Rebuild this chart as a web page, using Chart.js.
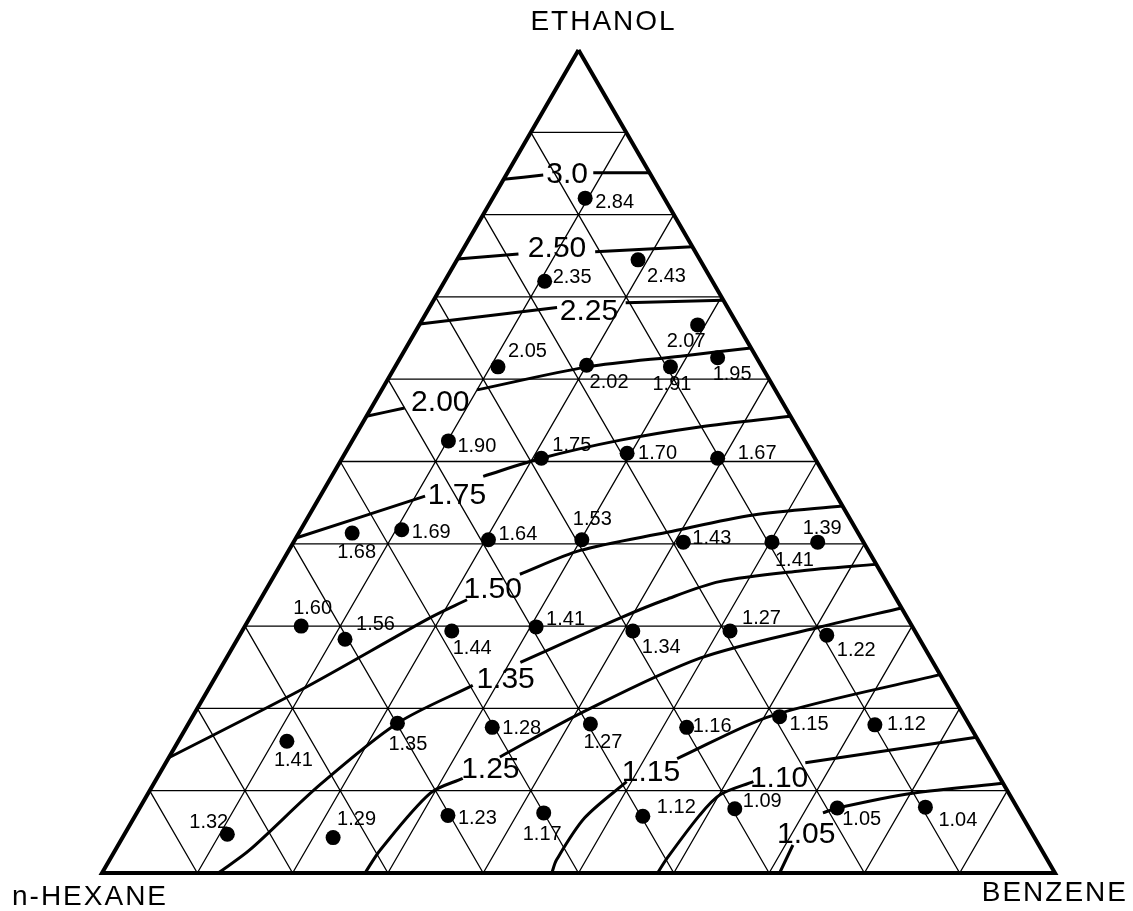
<!DOCTYPE html>
<html>
<head>
<meta charset="utf-8">
<script src="https://cdn.jsdelivr.net/npm/chart.js@4.4.0/dist/chart.umd.min.js"></script>
<style>
  html, body { margin: 0; padding: 0; background: #fff; }
  #wrap { width: 1133px; height: 911px; position: relative; }
</style>
</head>
<body>
<div id="wrap"><canvas id="ternary"></canvas></div>
<script>
// measured mixtures: [ethanol %, benzene %]; n-hexane makes up the rest
const pointComps = [
  [82.0, 9.7], [74.5, 19.0], [71.9, 10.5], [66.6, 29.2], [61.5, 10.8], [61.7, 20.0], [61.5, 28.9], [62.6, 33.3],
  [52.5, 10.1], [50.4, 20.9], [51.0, 29.6], [50.4, 39.4],
  [41.3, 5.6], [41.7, 10.6], [40.5, 20.3], [40.5, 30.1], [40.2, 40.9], [40.2, 50.2], [40.2, 55.0],
  [30.0, 5.9], [28.4, 11.3], [29.4, 22.0], [29.9, 30.6], [29.4, 41.0], [29.4, 51.2], [28.9, 61.6],
  [16.0, 11.4], [18.2, 21.9], [17.7, 32.1], [18.1, 42.2], [17.7, 52.5], [19.0, 61.6], [18.0, 72.1],
  [4.7, 10.8], [4.3, 22.1], [7.0, 32.8], [7.3, 42.7], [6.9, 53.3], [7.8, 62.5], [7.9, 73.2], [8.0, 82.4]
];
const pointValues = [
  2.84, 2.43, 2.35, 2.07, 2.05, 2.02, 1.91, 1.95,
  1.90, 1.75, 1.70, 1.67,
  1.68, 1.69, 1.64, 1.53, 1.43, 1.41, 1.39,
  1.60, 1.56, 1.44, 1.41, 1.34, 1.27, 1.22,
  1.41, 1.35, 1.28, 1.27, 1.16, 1.15, 1.12,
  1.32, 1.29, 1.23, 1.17, 1.12, 1.09, 1.05, 1.04
];

// iso-value lines, same [ethanol, benzene] pairs; null = break for the label
const contourLevels = ['3.0', '2.50', '2.25', '2.00', '1.75', '1.50', '1.35', '1.25', '1.15', '1.10', '1.05'];
const contourPaths = [
  [[84.3, 0], [84.8, 3.9], null, [85.1, 9.0], [85.1, 14.9]],
  [[74.6, 0], [75.2, 6.1], null, [75.5, 14.0], [76.1, 23.9]],
  [[66.7, 0], [68.7, 13.4], null, [69.3, 20.3], [69.6, 30.4]],
  [[55.5, 0], [56.5, 3.5], null, [58.7, 10.0], [61.5, 20.2], [62.8, 29.3], [63.8, 36.2]],
  [[40.7, 0], [45.8, 11.0], null, [48.2, 15.9], [50.4, 20.9], [52.6, 28.1], [54.2, 35.6], [55.5, 44.5]],
  [[14.0, 0], [22.2, 9.7], [31.0, 18.9], [33.2, 21.7], null, [36.3, 25.7], [39.2, 30.6], [41.4, 38.6], [43.5, 46.6], [44.6, 55.4]],
  [[0, 12.2], [2.8, 14.1], [10.7, 17.5], [18.2, 21.9], [22.8, 27.5], null, [25.6, 31.1], [31.0, 38.9], [33.2, 42.5], [35.4, 47.1], [36.7, 54.9], [37.5, 62.5]],
  [[0, 27.6], [2.8, 27.8], [9.7, 29.6], [11.5, 32.1], null, [14.1, 34.7], [19.4, 40.5], [26.1, 49.7], [29.9, 60.4], [32.2, 67.8]],
  [[0, 47.2], [1.6, 46.9], [6.7, 47.3], [11.1, 49.5], null, [13.9, 53.4], [19.1, 60.7], [24.1, 75.9]],
  [[0, 58.3], [1.8, 58.4], [7.0, 59.2], [9.5, 60.1], [11.1, 62.8], null, [13.4, 67.1], [16.5, 83.5]],
  [[0, 71.1], [3.4, 70.8], null, [7.3, 72.0], [7.9, 73.2], [9.7, 80.2], [10.9, 89.1]]
];

// placement of the written text
const contourLabelAt = [
  [84.8, 6.4], [75.9, 9.8], [68.2, 17.0], [57.2, 6.9], [45.9, 14.3], [34.4, 23.8],
  [23.5, 30.6], [12.5, 34.5], [12.2, 51.5], [11.5, 65.3], [4.6, 71.6]
];
const pointLabelOffsets = [
  [10, 4], [9, 17], [8, -4], [-31, 17], [10, -15], [3, 17], [-18, 18], [-5, 17],
  [9, 6], [11, -13], [11, 0], [20, -5],
  [-15, 19], [10, 3], [10, -5], [-9, -20], [9, -4], [3, 18], [-15, -14],
  [-8, -18], [11, -15], [1, 17], [10, -7], [9, 16], [12, -13], [10, 15],
  [-13, 19], [-9, 21], [10, 1], [-7, 18], [6, -1], [10, 8], [12, 0],
  [-38, -12], [4, -18], [10, 3], [-21, 22], [14, -9], [8, -7], [5, 12], [13, 13]
];

// ternary -> cartesian (equilateral triangle, side = 1 on x)
const toXY = (c) => c ? { x: (c[1] + c[0] / 2) / 100, y: c[0] / 100 } : { x: null, y: null };

// 10 % grid: constant ethanol, constant benzene, constant hexane
const gridPts = [];
for (let k = 10; k < 100; k += 10) {
  gridPts.push([k, 0], [k, 100 - k], null);
  gridPts.push([0, k], [100 - k, k], null);
  gridPts.push([0, 100 - k], [100 - k, 0], null);
}
const outline = [[100, 0], [0, 0], [0, 100], [100, 0]];

const datasets = [];
datasets.push({
  data: pointComps.map(toXY), showLine: false, pointRadius: 7.5,
  pointBackgroundColor: '#000', pointBorderWidth: 0, order: 0, clip: false
});
contourPaths.forEach((path) => {
  datasets.push({
    data: path.map(toXY), showLine: true, borderColor: '#000', borderWidth: 3,
    pointRadius: 0, tension: 0.3, order: 1, clip: false
  });
});
datasets.push({
  data: outline.map(toXY), showLine: true, borderColor: '#000', borderWidth: 4,
  borderJoinStyle: 'miter', pointRadius: 0, order: 2, clip: false
});
datasets.push({
  data: gridPts.map(toXY), showLine: true, borderColor: '#000', borderWidth: 1.3,
  pointRadius: 0, order: 3, clip: false
});

const textPlugin = {
  id: 'ternaryText',
  afterDatasetsDraw(chart) {
    const { ctx, scales: { x, y } } = chart;
    const px = (c) => { const p = toXY(c); return [x.getPixelForValue(p.x), y.getPixelForValue(p.y)]; };
    ctx.save();
    ctx.fillStyle = '#000';
    ctx.textBaseline = 'middle';

    ctx.font = '20px "Liberation Sans", Arial, sans-serif';
    ctx.textAlign = 'left';
    pointComps.forEach((c, i) => {
      const [cx, cy] = px(c);
      const [dx, dy] = pointLabelOffsets[i];
      ctx.fillText(pointValues[i].toFixed(2), cx + dx, cy + dy);
    });

    ctx.font = '30px "Liberation Sans", Arial, sans-serif';
    ctx.textAlign = 'center';
    contourLevels.forEach((lbl, i) => {
      const [cx, cy] = px(contourLabelAt[i]);
      ctx.fillText(lbl, cx, cy);
    });

    // corner names
    ctx.font = '28px "Liberation Sans", Arial, sans-serif';
    ctx.letterSpacing = '2px';
    const top = px([100, 0]), left = px([0, 0]), right = px([0, 100]);
    ctx.textAlign = 'center';
    ctx.fillText('ETHANOL', top[0] + 25, top[1] - 28);
    ctx.textAlign = 'left';
    ctx.fillText('n-HEXANE', left[0] - 90, left[1] + 24);
    ctx.textAlign = 'right';
    ctx.fillText('BENZENE', right[0] + 73, right[1] + 20);
    ctx.restore();
  }
};

new Chart(document.getElementById('ternary'), {
  type: 'scatter',
  data: { datasets },
  options: {
    responsive: true,
    maintainAspectRatio: false,
    animation: false,
    events: [],
    layout: { padding: { left: 102, right: 78, top: 50, bottom: 38 } },
    plugins: { legend: { display: false }, tooltip: { enabled: false } },
    scales: {
      x: { type: 'linear', min: 0, max: 1, display: false },
      y: { type: 'linear', min: 0, max: 1, display: false }
    }
  },
  plugins: [textPlugin]
});
</script>
</body>
</html>
